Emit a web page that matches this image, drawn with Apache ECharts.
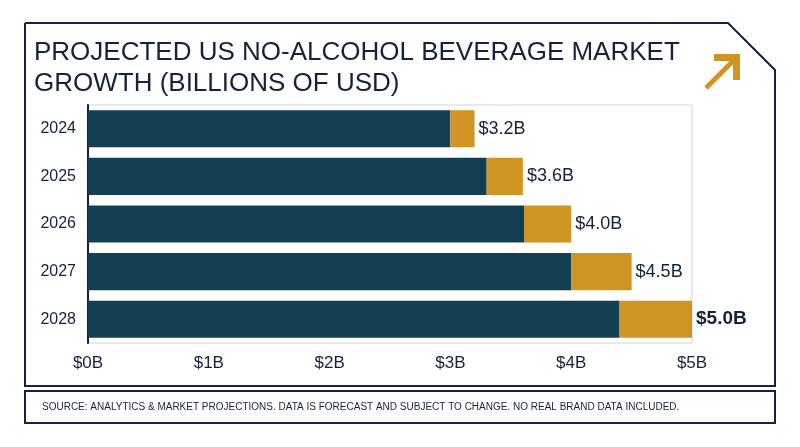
<!DOCTYPE html>
<html>
<head>
<meta charset="utf-8">
<script src="https://cdn.jsdelivr.net/npm/echarts@6/dist/echarts.min.js"></script>
<style>html,body{margin:0;background:#fff}#c{width:800px;height:447px}</style>
</head>
<body>
<div id="c"></div>
<script>
var years = ['2024', '2025', '2026', '2027', '2028'];
var baseValues = [3.0, 3.3, 3.61, 4.0, 4.4];
var totalValues = [3.2, 3.6, 4.0, 4.5, 5.0];
var tickLabels = ['$0B', '$1B', '$2B', '$3B', '$4B', '$5B'];

var navy = '#123f52';
var gold = '#cf9424';
var ink = '#14233a';

var growthValues = totalValues.map(function (t, i) {
    return +(t - baseValues[i]).toFixed(2);
});

var ec = echarts.init(document.getElementById('c'));
ec.setOption({
    animation: false,
    grid: { left: 88, right: 108, top: 105, bottom: 104, show: true, borderColor: '#cfd3d6', borderWidth: 1 },
    xAxis: {
        type: 'value', min: 0, max: 5, interval: 1,
        splitLine: { show: false },
        axisLine: { show: false },
        axisTick: { show: false },
        axisLabel: {
            color: ink, fontSize: 17, fontFamily: 'Liberation Sans', margin: 12,
            formatter: function (v) { return tickLabels[v]; }
        }
    },
    yAxis: {
        type: 'category', data: years, inverse: true,
        axisLine: { show: true, lineStyle: { color: ink, width: 2 } },
        axisTick: { show: false },
        axisLabel: { color: ink, fontSize: 16, fontFamily: 'Liberation Sans', margin: 12 }
    },
    series: [
        {
            type: 'bar', stack: 'a', data: baseValues, barWidth: '78%',
            itemStyle: { color: navy }
        },
        {
            type: 'bar', stack: 'a', data: growthValues, barWidth: '78%',
            itemStyle: { color: gold },
            label: {
                show: true, position: 'right', distance: 4,
                fontFamily: 'Liberation Sans', fontSize: 18, color: ink,
                formatter: function (p) {
                    var t = totalValues[p.dataIndex].toFixed(1);
                    return p.dataIndex === years.length - 1 ? '{b|$' + t + 'B}' : '$' + t + 'B';
                },
                rich: { b: { fontWeight: 'bold', fontSize: 19, color: ink, fontFamily: 'Liberation Sans' } }
            }
        }
    ],
    graphic: [
        {
            type: 'polyline',
            shape: { points: [[25, 23], [728, 23], [775, 70], [775, 386], [25, 386], [25, 23]] },
            style: { fill: 'none', stroke: ink, lineWidth: 2 }
        },
        {
            type: 'rect', shape: { x: 25, y: 391, width: 750, height: 32 },
            style: { fill: 'none', stroke: ink, lineWidth: 2 }
        },
        {
            type: 'text', left: 42, top: 402,
            style: { text: 'SOURCE: ANALYTICS & MARKET PROJECTIONS. DATA IS FORECAST AND SUBJECT TO CHANGE. NO REAL BRAND DATA INCLUDED.', fill: ink, font: '10px "Liberation Sans"' }
        },
        {
            type: 'text', left: 34, top: 37,
            style: { text: 'PROJECTED US NO-ALCOHOL BEVERAGE MARKET\nGROWTH (BILLIONS OF USD)', fill: ink, font: '26px "Liberation Sans"', lineHeight: 31 }
        },
        {
            type: 'polyline',
            shape: { points: [[706, 88], [738, 56]] },
            style: { stroke: gold, lineWidth: 5, fill: 'none' }
        },
        {
            type: 'polygon',
            shape: { points: [[714, 54], [740, 54], [740, 80], [733, 80], [733, 61], [714, 61]] },
            style: { fill: gold }
        }
    ]
});
</script>
</body>
</html>
